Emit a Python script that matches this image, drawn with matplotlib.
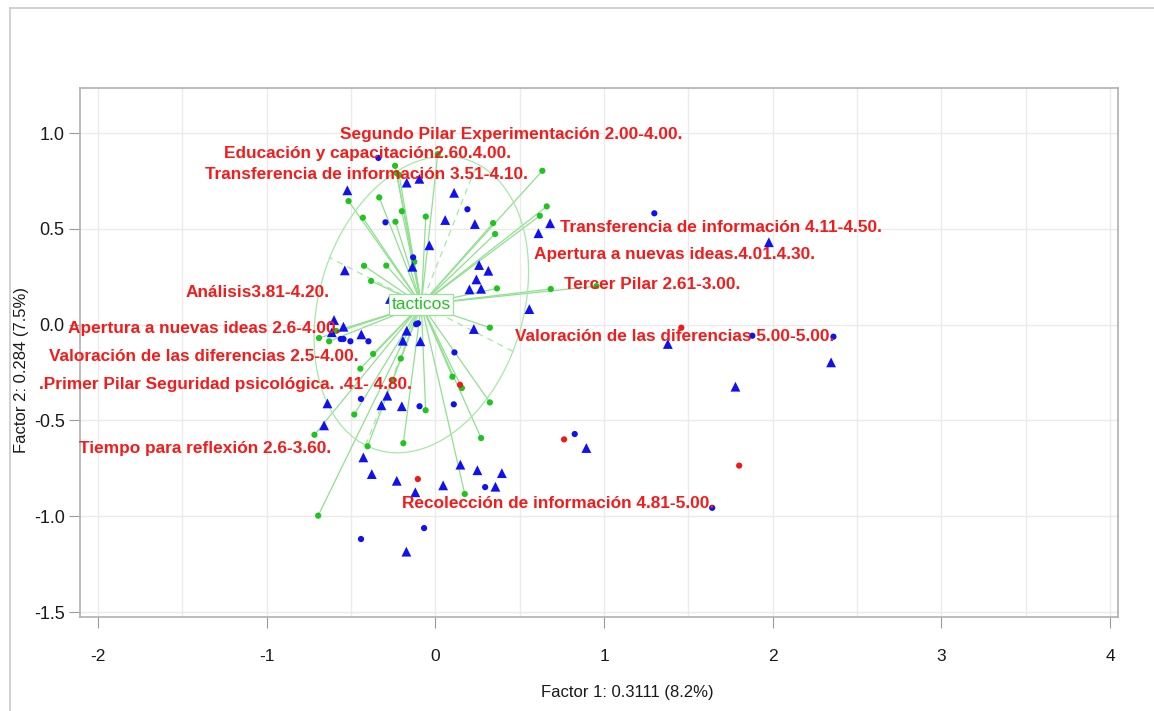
import numpy as np
import matplotlib
matplotlib.use("Agg")
import matplotlib.pyplot as plt
from matplotlib.lines import Line2D

plt.rcParams["font.family"] = ["Liberation Sans", "DejaVu Sans"]
plt.rcParams["axes.unicode_minus"] = False

# ---- data (factor scores) ----
# individuals in the "tacticos" class (drawn as a star around their centroid)
tact_x = [0.014, -0.239, -0.229, -0.215, 0.634, -0.515, -0.333, 0.660, 0.619, -0.430,
          -0.237, -0.199, -0.057, 0.342, 0.354, -0.125, -0.423, -0.291, -0.381, 0.365,
          0.684, 0.955, -0.588, -0.690, -0.630, 0.323, -0.369, -0.205, -0.445, 0.101,
          0.157, -0.254, -0.058, 0.323, -0.481, -0.717, -0.402, -0.190, 0.271, 0.174,
          -0.695]
tact_y = [0.890, 0.829, 0.790, 0.781, 0.803, 0.645, 0.664, 0.617, 0.568, 0.558,
          0.537, 0.592, 0.564, 0.530, 0.473, 0.328, 0.307, 0.308, 0.228, 0.189,
          0.186, 0.201, -0.033, -0.070, -0.087, -0.016, -0.153, -0.177, -0.230, -0.272,
          -0.331, -0.292, -0.447, -0.406, -0.469, -0.575, -0.635, -0.619, -0.592, -0.884,
          -0.997]
class_name = "tacticos"

# blue circles
circ_x = [-0.338, 0.190, -0.296, -0.132, 1.298, 1.879, 2.360, -0.561, -0.545, -0.504,
          -0.397, -0.114, -0.103, 0.113, -0.441, -0.094, 0.109, 0.826, 0.295, 1.641,
          -0.067, -0.441]
circ_y = [0.870, 0.602, 0.534, 0.351, 0.581, -0.058, -0.063, -0.075, -0.075, -0.087,
          -0.087, 0.002, 0.007, -0.145, -0.388, -0.426, -0.416, -0.571, -0.848, -0.956,
          -1.062, -1.119]

# blue triangles
tri_x = [-0.170, -0.095, -0.522, 0.111, 0.680, 0.611, 0.058, 0.234, -0.036, -0.136,
         -0.537, 0.259, 0.314, 0.243, 0.202, 0.271, -0.269, 0.557, 1.977, 1.378,
         2.346, 1.779, 0.895, -0.601, -0.545, -0.614, -0.439, -0.170, -0.193, -0.089,
         0.228, -0.285, -0.320, -0.199, -0.640, -0.660, -0.427, -0.377, -0.229, -0.119,
         0.046, 0.148, 0.249, 0.394, 0.356, -0.172]
tri_y = [0.741, 0.761, 0.701, 0.688, 0.529, 0.477, 0.546, 0.525, 0.414, 0.302,
         0.283, 0.311, 0.281, 0.236, 0.184, 0.187, 0.134, 0.081, 0.430, -0.101,
         -0.197, -0.324, -0.644, 0.024, -0.011, -0.040, -0.051, -0.032, -0.084, -0.087,
         -0.023, -0.371, -0.421, -0.426, -0.411, -0.526, -0.693, -0.780, -0.815, -0.875,
         -0.839, -0.731, -0.760, -0.775, -0.846, -1.185]

# red points
red_x = [1.458, 0.146, 0.763, 1.801, -0.104]
red_y = [-0.016, -0.314, -0.599, -0.736, -0.806]

# category labels
cat_labels = [
    "Segundo Pilar Experimentación 2.00-4.00.",
    "Educación y capacitación2.60.4.00.",
    "Transferencia de información 3.51-4.10.",
    "Transferencia de información 4.11-4.50.",
    "Apertura a nuevas ideas.4.01.4.30.",
    "Tercer Pilar 2.61-3.00.",
    "Análisis3.81-4.20.",
    "Apertura a nuevas ideas 2.6-4.00.",
    "Valoración de las diferencias 5.00-5.00.",
    "Valoración de las diferencias 2.5-4.00.",
    ".Primer Pilar Seguridad psicológica. .41- 4.80.",
    "Tiempo para reflexión 2.6-3.60.",
    "Recolección de información 4.81-5.00.",
]

x_ticks = [-2, -1, 0, 1, 2, 3, 4]
y_ticks = [1.0, 0.5, 0.0, -0.5, -1.0, -1.5]
x_title = "Factor 1: 0.3111 (8.2%)"
y_title = "Factor 2: 0.284 (7.5%)"

# label anchor points (left edge, vertical centre) in factor units
label_anchor = [(-0.565, 0.994), (-1.253, 0.895), (-1.365, 0.781), (0.740, 0.509),
                (0.587, 0.367), (0.763, 0.210), (-1.484, 0.169), (-2.178, -0.019),
                (0.472, -0.060), (-2.289, -0.168), (-2.350, -0.310), (-2.112, -0.645),
                (-0.198, -0.936)]

# ---- figure ----
W, H = 1154, 711
fig = plt.figure(figsize=(W / 100, H / 100), dpi=100)
fig.patch.set_facecolor("white")

# outer frame
frame_c = "#c9c9c9"
fig.add_artist(Line2D([10 / W, 1.0], [1 - 8 / H, 1 - 8 / H], color=frame_c, lw=1.2))
fig.add_artist(Line2D([10 / W, 10 / W], [0.0, 1 - 8 / H], color=frame_c, lw=1.2))

ax = fig.add_axes([80 / W, 1 - 617 / H, (1118 - 80) / W, (617 - 88) / H])
ax.set_xlim(-2.107, 4.047)
ax.set_ylim(-1.526, 1.235)

# grid
grid_c = "#ebebeb"
for gx in np.arange(-2.0, 4.01, 0.5):
    ax.axvline(gx, color=grid_c, lw=1.0, zorder=0)
for gy in np.arange(-1.5, 1.01, 0.5):
    ax.axhline(gy, color=grid_c, lw=1.0, zorder=0)

for s in ax.spines.values():
    s.set_color("#b0b0b0")
    s.set_linewidth(1.2)

ax.set_xticks(x_ticks)
ax.set_xticklabels([str(v) for v in x_ticks])
ax.set_yticks(y_ticks)
ax.set_yticklabels([f"{v:.1f}" for v in y_ticks])
ax.tick_params(axis="x", length=8, width=0.8, color="#9a9a9a", pad=15,
               labelsize=12.5, labelcolor="#1a1a1a")
ax.tick_params(axis="y", length=8, width=0.8, color="#9a9a9a", pad=3,
               labelsize=13, labelcolor="#1a1a1a")

# class star, ellipse and ellipse axes
gx_arr = np.array(tact_x)
gy_arr = np.array(tact_y)
cx, cy = gx_arr.mean(), gy_arr.mean()
line_c = "#8fe08f"
for px, py in zip(gx_arr, gy_arr):
    ax.plot([cx, px], [cy, py], color=line_c, lw=0.9, zorder=2)

cov = np.cov(gx_arr, gy_arr, bias=True)
evals, evecs = np.linalg.eigh(cov)
scale = 1.5
t = np.linspace(0, 2 * np.pi, 300)
circle = np.vstack([np.cos(t), np.sin(t)])
ell = evecs @ (scale * np.sqrt(evals)[:, None] * circle)
ax.plot(cx + ell[0], cy + ell[1], color="#a6e8a6", lw=0.9, zorder=2)
for k in range(2):
    v = evecs[:, k] * scale * np.sqrt(evals[k])
    ax.plot([cx - v[0], cx + v[0]], [cy - v[1], cy + v[1]], color="#a6e8a6",
            lw=0.9, ls=(0, (5, 4)), zorder=2)

# points
ax.scatter(tact_x, tact_y, s=20, color="#1fc41f", edgecolors="none", zorder=4)
ax.scatter(circ_x, circ_y, s=20, color="#1010f0", edgecolors="none", zorder=4)
ax.scatter(tri_x, tri_y, s=50, marker="^", color="#1010f0", edgecolors="none", zorder=4)
ax.scatter(red_x, red_y, s=20, color="#f01818", edgecolors="none", zorder=4)

# class label
ax.text(cx, cy, class_name, fontsize=12.5, color="#22c422", ha="center", va="center",
        zorder=6,
        bbox=dict(boxstyle="square,pad=0.15", facecolor="white", edgecolor="#9be09b",
                  linewidth=0.9))

# category labels
for txt, (lx, ly) in zip(cat_labels, label_anchor):
    ax.text(lx, ly, txt, fontsize=12.4, fontweight="bold", color="#f21c1c",
            ha="left", va="center", zorder=7, clip_on=False)

fig.text(627 / W, 1 - 692 / H, x_title, ha="center", va="center", fontsize=12,
         color="#1a1a1a")
fig.text(22 / W, 1 - 370 / H, y_title, ha="center", va="center", rotation=90,
         fontsize=12, color="#1a1a1a")

fig.savefig("out.png", dpi=100, facecolor="white")
